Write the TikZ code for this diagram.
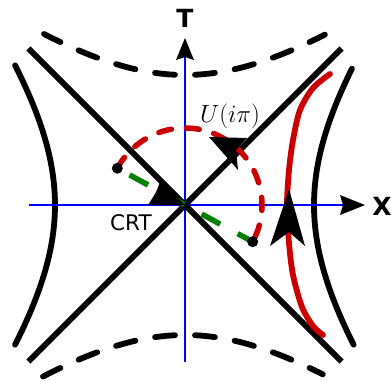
\documentclass[tikz,border=0pt]{standalone}
\usepackage{fontspec}
\newfontfamily\lblfont{DejaVu Sans}
\definecolor{myred}{RGB}{204,0,0}
\definecolor{mygreen}{RGB}{0,128,0}
\begin{document}
\begin{tikzpicture}[x=1pt,y=1pt,
  hyp/.style={line width=5.8pt, line cap=round},
  hypdash/.style={line width=5.8pt, line cap=round, dash pattern=on 20pt off 20pt, dash phase=30pt},
  cone/.style={line width=5.8pt},
  axisline/.style={blue, line width=1.8pt},
  headfill/.style={fill=black},
  redline/.style={myred, line width=5.8pt, line cap=round},
  lbl/.style={inner sep=0pt, font=\lblfont\fontsize{25}{28}\selectfont\bfseries}
]
\useasboundingbox (-185,-176) rectangle (206,205);

% Rindler hyperbolas (solid)
\draw[hyp] plot[domain=-0.765:0.765, variable=\s, samples=60, smooth] ({-130*cosh(\s)},{166*sinh(\s)});
\draw[hyp] plot[domain=-0.765:0.75, variable=\s, samples=60, smooth] ({129*cosh(\s)},{166*sinh(\s)});

% dashed hyperbolas (top and bottom)
\draw[hypdash] plot[domain=0:0.77, variable=\s, samples=40, smooth] ({165*sinh(\s)},{130*cosh(\s)});
\draw[hypdash] plot[domain=0:0.775, variable=\s, samples=40, smooth] ({-165*sinh(\s)},{130*cosh(\s)});
\draw[hypdash] plot[domain=0:0.76, variable=\s, samples=40, smooth] ({165*sinh(\s)},{-130*cosh(\s)});
\draw[hypdash] plot[domain=0:0.78, variable=\s, samples=40, smooth] ({-165*sinh(\s)},{-130*cosh(\s)});

% axes
\coordinate (xs) at (-156,0);
\coordinate (xe) at (160,0);
\coordinate (ts) at (0,-157);
\coordinate (te) at (0,150);
\draw[axisline] (xs) -- (xe);
\draw[axisline] (ts) -- (te);
\fill[headfill] (180,0) -- (155,10) -- (158,0) -- (155,-10) -- cycle;
\fill[headfill] (0,167) -- (-9,145) -- (0,148) -- (9,145) -- cycle;

% light cone
\coordinate (ul) at (-156.5,156.5);
\coordinate (lr) at (156.5,-156.5);
\coordinate (ll) at (-156.5,-156.5);
\coordinate (ur) at (156.5,156.5);
\draw[cone] (ul) -- (lr);
\draw[cone] (ll) -- (ur);

% red boost trajectory
\draw[redline] plot[smooth] coordinates {(145,131) (128,117) (115,95) (108,65) (104,35) (102,0) (104,-38) (108,-70) (117,-102) (128,-121) (138,-130)};
\fill[headfill] (104,16) -- (85,-41) -- (104,-27) -- (120,-41) -- cycle;

% Euclidean rotation arc
\coordinate (dl) at (151.5:77);
\coordinate (dr) at (-28.5:77);
\draw[redline, line width=5.5pt, dash pattern=on 13pt off 15pt] (dl) arc[start angle=151.5, end angle=-28.5, radius=77];
\draw[mygreen, line width=5.5pt, dash pattern=on 21pt off 20pt, dash phase=27pt] (dl) -- (dr);
\fill (dl) circle (5.5pt);
\fill (dr) circle (5.5pt);
\fill[headfill] (24,68) -- (62,67) -- (51,55) -- (53,35) -- cycle;

% CRT wedge arrowhead
\fill[headfill] (0,0) -- (-25,24) .. controls (-28,14) .. (-37,0) -- cycle;

% labels
\node[lbl] (tlab) at (0,187) {T};
\node[lbl] (xlab) at (197,-1) {X};
\node[inner sep=0pt, font=\lblfont\fontsize{21.5}{24}\selectfont] (crt) at (-54,-18) {CRT};
\node[inner sep=0pt, font=\fontsize{24}{28}\selectfont] (ulab) at (45,89) {$U(i\pi)$};
\end{tikzpicture}
\end{document}
